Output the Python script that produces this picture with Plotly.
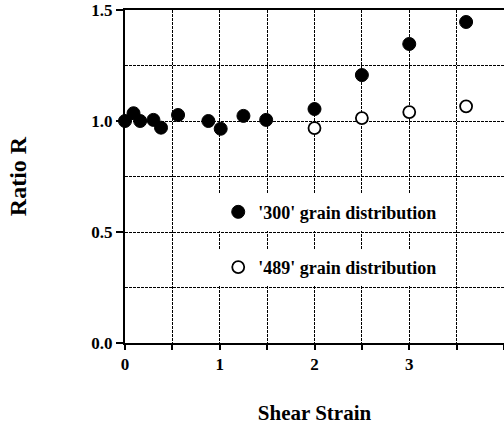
import plotly.graph_objects as go

# '300' grain distribution (filled)
strain_300 = [0.0, 0.09, 0.16, 0.3, 0.38, 0.56, 0.88, 1.01, 1.25, 1.49, 2.0, 2.5, 3.0, 3.6]
ratio_300 = [1.0, 1.035, 1.0, 1.005, 0.97, 1.027, 1.0, 0.965, 1.023, 1.005, 1.054, 1.207, 1.347, 1.446]

# '489' grain distribution (open)
strain_489 = [2.0, 2.5, 3.0, 3.6]
ratio_489 = [0.968, 1.013, 1.04, 1.066]

x_tickvals = [0, 1, 2, 3, 4]
x_ticktext = ["0", "1", "2", "3", "4"]
y_tickvals = [0.0, 0.5, 1.0, 1.5]
y_ticktext = ["0.0", "0.5", "1.0", "1.5"]

FONT = "Liberation Serif"
GRID = dict(gridcolor="black", gridwidth=1.3, griddash="3px,1px")

fig = go.Figure()
fig.add_trace(go.Scatter(
    x=strain_300, y=ratio_300, mode="markers", name="'300' grain distribution",
    marker=dict(size=13, color="black", line=dict(color="black", width=1)),
    legend="legend", cliponaxis=False,
))
fig.add_trace(go.Scatter(
    x=strain_489, y=ratio_489, mode="markers", name="'489' grain distribution",
    marker=dict(size=12, color="white", line=dict(color="black", width=1.8)),
    legend="legend2", cliponaxis=False,
))

legfont = dict(family=FONT, size=18, color="black", weight="bold")
fig.update_layout(
    width=504, height=426,
    margin=dict(l=125, r=0, t=10, b=83),
    paper_bgcolor="white", plot_bgcolor="white",
    font=dict(family=FONT, color="black"),
    legend=dict(x=0.246, y=0.393, xanchor="left", yanchor="middle",
                bgcolor="white", borderwidth=0, font=legfont),
    legend2=dict(x=0.246, y=0.227, xanchor="left", yanchor="middle",
                 bgcolor="white", borderwidth=0, font=legfont),
    xaxis=dict(
        range=[0, 4], tickvals=x_tickvals, ticktext=x_ticktext,
        ticks="outside", ticklen=5, tickwidth=1.5, tickcolor="black",
        tickfont=dict(family=FONT, size=17, weight="bold"),
        showline=True, linecolor="black", linewidth=2, mirror=True,
        showgrid=True, **GRID,
        minor=dict(dtick=0.5, showgrid=True, ticks="outside", ticklen=5,
                   tickcolor="black", **GRID),
        zeroline=False,
        title=dict(text="Shear Strain", font=dict(family=FONT, size=21, weight="bold"), standoff=32),
    ),
    yaxis=dict(
        range=[0, 1.5], tickvals=y_tickvals, ticktext=y_ticktext,
        ticks="outside", ticklen=7, tickwidth=1.5, tickcolor="black",
        tickfont=dict(family=FONT, size=17, weight="bold"),
        showline=True, linecolor="black", linewidth=2, mirror=False,
        showgrid=True, **GRID,
        minor=dict(dtick=0.25, showgrid=True, **GRID),
        zeroline=False,
        title=dict(text="Ratio R", font=dict(family=FONT, size=24, weight="bold"), standoff=58),
    ),
    showlegend=True,
)

fig.write_html("out.html")
